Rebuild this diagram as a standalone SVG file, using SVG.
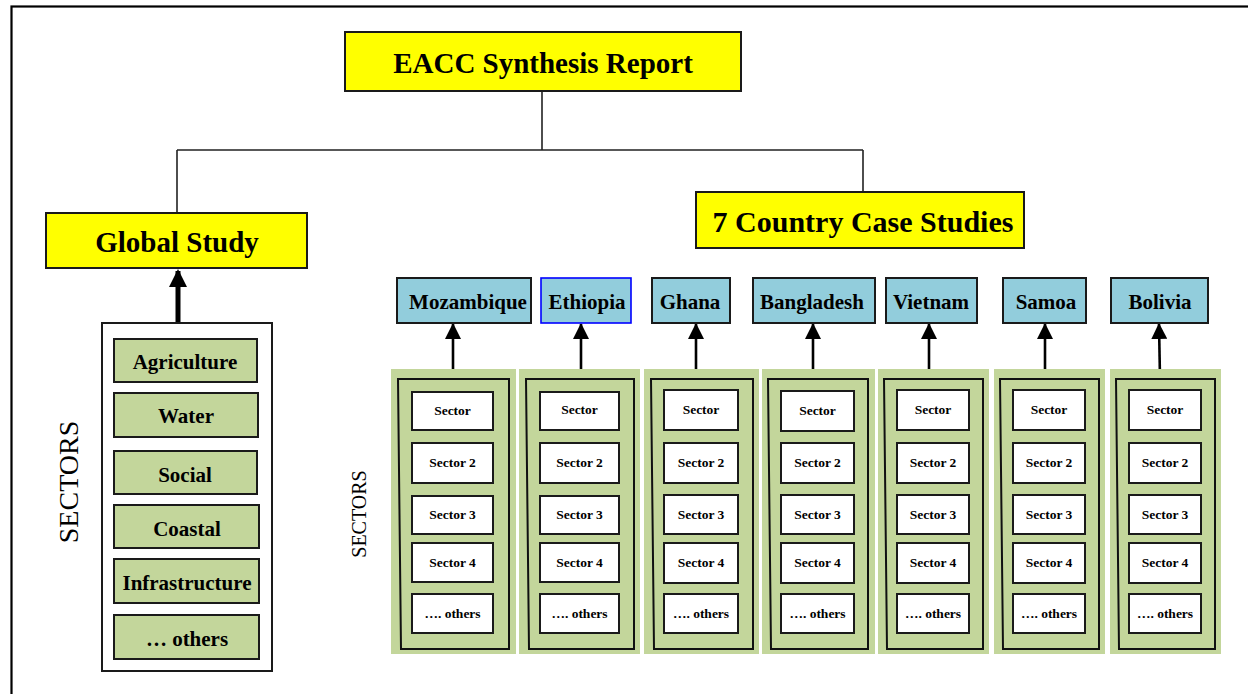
<svg xmlns="http://www.w3.org/2000/svg" width="1248" height="694" viewBox="0 0 1248 694">
<style>
  text{font-family:"Liberation Serif","Times New Roman",serif;fill:#000}
  .b{font-weight:bold;text-anchor:middle}
  .yel{fill:#ffff00;stroke:#1a1a1a;stroke-width:2}
  .cty{fill:#92cddc;stroke:#1a1a1a;stroke-width:2}
  .sec{fill:#c3d69b;stroke:#1a1a1a;stroke-width:2}
  .col{fill:#c3d69b;stroke:none}
  .inner{fill:none;stroke:#111;stroke-width:2}
  .wht{fill:#fff;stroke:#1a1a1a;stroke-width:2}
  .t29{font-size:29px}
  .t30{font-size:30px}
  .t21{font-size:21px}
  .t13{font-size:13.5px}
  .conn{fill:none;stroke:#222;stroke-width:1.6}
  .arr{fill:none;stroke:#000;stroke-width:2.6;marker-end:url(#ah)}
  .arrBig{fill:none;stroke:#000;stroke-width:5;marker-end:url(#ahBig)}
</style>
<defs>
  <marker id="ah" viewBox="0 0 16 16" refX="15" refY="8" markerWidth="16" markerHeight="16" markerUnits="userSpaceOnUse" orient="auto">
    <path d="M0,0 L16,8 L0,16 z" fill="#000"/>
  </marker>
  <marker id="ahBig" viewBox="0 0 18 18" refX="16" refY="9" markerWidth="18" markerHeight="18" markerUnits="userSpaceOnUse" orient="auto">
    <path d="M0,0 L18,9 L0,18 z" fill="#000"/>
  </marker>
</defs>
<rect width="1248" height="694" fill="#fff"/>
<rect x="11.5" y="6.5" width="1260" height="720" fill="none" stroke="#000" stroke-width="2.2"/>

<g id="connectors">
  <path class="conn" d="M542,91 V150 M177,150 H863 M177,150 V213 M863,150 V192"/>
  <path class="arrBig" d="M178,322 V271"/>
  <path class="arr" d="M453,379 V324"/>
  <path class="arr" d="M581,379 V324"/>
  <path class="arr" d="M696,379 V324"/>
  <path class="arr" d="M813,379 V324"/>
  <path class="arr" d="M929,379 V324"/>
  <path class="arr" d="M1045,379 V324"/>
  <path class="arr" d="M1160,379 L1159,324"/>
</g>

<g id="eacc">
  <rect class="yel" x="345" y="32" width="396" height="59"/>
  <text class="b t29" x="543" y="73">EACC Synthesis Report</text>
</g>
<g id="global-study">
  <rect class="yel" x="46" y="213" width="261" height="55"/>
  <text class="b t29" x="177" y="252">Global Study</text>
</g>
<g id="country-case-studies">
  <rect class="yel" x="696" y="192" width="328" height="56"/>
  <text class="b t30" x="863" y="232">7 Country Case Studies</text>
</g>

<g id="global-sectors">
  <rect x="102" y="323" width="170" height="348" fill="#fff" stroke="#1a1a1a" stroke-width="2"/>
  <text x="68" y="482" font-size="28" text-anchor="middle" transform="rotate(-90 68 482)" dy="10">SECTORS</text>
  <rect class="sec" x="114" y="339" width="143" height="43"/>
  <text class="b t21" x="185" y="369">Agriculture</text>
  <rect class="sec" x="114" y="393" width="144" height="44"/>
  <text class="b t21" x="186" y="423">Water</text>
  <rect class="sec" x="114" y="451" width="143" height="43"/>
  <text class="b t21" x="185" y="482">Social</text>
  <rect class="sec" x="114" y="505" width="145" height="43"/>
  <text class="b t21" x="187" y="536">Coastal</text>
  <rect class="sec" x="114" y="559" width="145" height="44"/>
  <text class="b t21" x="187" y="590">Infrastructure</text>
  <rect class="sec" x="114" y="615" width="145" height="44"/>
  <text class="b t21" x="187" y="646">… others</text>
</g>

<text x="359" y="514" font-size="20" text-anchor="middle" transform="rotate(-90 359 514)" dy="7">SECTORS</text>

<g id="mozambique">
  <rect class="cty" x="397" y="278" width="134" height="45"/>
  <text class="b t21" x="468" y="309">Mozambique</text>
  <rect class="col" x="391" y="369" width="125" height="285"/>
  <path class="inner" d="M398,379 H509 V649 H401 Z"/>
  <rect class="wht" x="412" y="392" width="81" height="38"/><text class="b t13" x="452.5" y="415">Sector</text>
  <rect class="wht" x="412" y="443" width="81" height="40"/><text class="b t13" x="452.5" y="467">Sector 2</text>
  <rect class="wht" x="412" y="496" width="81" height="38"/><text class="b t13" x="452.5" y="519">Sector 3</text>
  <rect class="wht" x="412" y="543" width="81" height="39"/><text class="b t13" x="452.5" y="567">Sector 4</text>
  <rect class="wht" x="412" y="594" width="81" height="39"/><text class="b t13" x="452.5" y="618">…. others</text>
</g>

<g id="ethiopia">
  <rect x="541" y="278" width="90" height="45" fill="#92cddc" stroke="#0000ff" stroke-width="1.6"/>
  <text class="b t21" x="587" y="309">Ethiopia</text>
  <rect class="col" x="519" y="369" width="121" height="285"/>
  <path class="inner" d="M526,379 H634 V649 H529 Z"/>
  <rect class="wht" x="540" y="392" width="79" height="38"/><text class="b t13" x="579.5" y="414">Sector</text>
  <rect class="wht" x="540" y="443" width="79" height="40"/><text class="b t13" x="579.5" y="467">Sector 2</text>
  <rect class="wht" x="540" y="496" width="79" height="38"/><text class="b t13" x="579.5" y="519">Sector 3</text>
  <rect class="wht" x="540" y="543" width="79" height="39"/><text class="b t13" x="579.5" y="567">Sector 4</text>
  <rect class="wht" x="540" y="594" width="79" height="39"/><text class="b t13" x="579.5" y="618">…. others</text>
</g>

<g id="ghana">
  <rect class="cty" x="652" y="278" width="78" height="45"/>
  <text class="b t21" x="690" y="309">Ghana</text>
  <rect class="col" x="644" y="369" width="115" height="285"/>
  <path class="inner" d="M651,379 H753 V649 H654 Z"/>
  <rect class="wht" x="664" y="390" width="74" height="40"/><text class="b t13" x="701" y="414">Sector</text>
  <rect class="wht" x="664" y="443" width="74" height="40"/><text class="b t13" x="701" y="467">Sector 2</text>
  <rect class="wht" x="664" y="495" width="74" height="39"/><text class="b t13" x="701" y="519">Sector 3</text>
  <rect class="wht" x="664" y="543" width="74" height="40"/><text class="b t13" x="701" y="567">Sector 4</text>
  <rect class="wht" x="664" y="594" width="74" height="39"/><text class="b t13" x="701" y="618">…. others</text>
</g>

<g id="bangladesh">
  <rect class="cty" x="753" y="278" width="122" height="45"/>
  <text class="b t21" x="812" y="309">Bangladesh</text>
  <rect class="col" x="762" y="369" width="113" height="285"/>
  <path class="inner" d="M768,379 H868 V649 H771 Z"/>
  <rect class="wht" x="781" y="391" width="73" height="40"/><text class="b t13" x="817.5" y="415">Sector</text>
  <rect class="wht" x="781" y="443" width="73" height="40"/><text class="b t13" x="817.5" y="467">Sector 2</text>
  <rect class="wht" x="781" y="495" width="73" height="39"/><text class="b t13" x="817.5" y="519">Sector 3</text>
  <rect class="wht" x="781" y="543" width="73" height="40"/><text class="b t13" x="817.5" y="567">Sector 4</text>
  <rect class="wht" x="781" y="594" width="73" height="39"/><text class="b t13" x="817.5" y="618">…. others</text>
</g>

<g id="vietnam">
  <rect class="cty" x="886" y="278" width="91" height="45"/>
  <text class="b t21" x="931" y="309">Vietnam</text>
  <rect class="col" x="878" y="369" width="111" height="285"/>
  <path class="inner" d="M884,379 H983 V649 H887 Z"/>
  <rect class="wht" x="897" y="390" width="72" height="40"/><text class="b t13" x="933" y="414">Sector</text>
  <rect class="wht" x="897" y="443" width="72" height="40"/><text class="b t13" x="933" y="467">Sector 2</text>
  <rect class="wht" x="897" y="495" width="72" height="39"/><text class="b t13" x="933" y="519">Sector 3</text>
  <rect class="wht" x="897" y="543" width="72" height="40"/><text class="b t13" x="933" y="567">Sector 4</text>
  <rect class="wht" x="897" y="594" width="72" height="39"/><text class="b t13" x="933" y="618">…. others</text>
</g>

<g id="samoa">
  <rect class="cty" x="1003" y="278" width="83" height="45"/>
  <text class="b t21" x="1046" y="309">Samoa</text>
  <rect class="col" x="994" y="369" width="111" height="285"/>
  <path class="inner" d="M1000,379 H1099 V649 H1003 Z"/>
  <rect class="wht" x="1013" y="390" width="72" height="40"/><text class="b t13" x="1049" y="414">Sector</text>
  <rect class="wht" x="1013" y="443" width="72" height="40"/><text class="b t13" x="1049" y="467">Sector 2</text>
  <rect class="wht" x="1013" y="495" width="72" height="39"/><text class="b t13" x="1049" y="519">Sector 3</text>
  <rect class="wht" x="1013" y="543" width="72" height="40"/><text class="b t13" x="1049" y="567">Sector 4</text>
  <rect class="wht" x="1013" y="594" width="72" height="39"/><text class="b t13" x="1049" y="618">…. others</text>
</g>

<g id="bolivia">
  <rect class="cty" x="1111" y="278" width="97" height="45"/>
  <text class="b t21" x="1160" y="309">Bolivia</text>
  <rect class="col" x="1110" y="369" width="111" height="285"/>
  <path class="inner" d="M1116,379 H1215 V649 H1119 Z"/>
  <rect class="wht" x="1129" y="390" width="72" height="40"/><text class="b t13" x="1165" y="414">Sector</text>
  <rect class="wht" x="1129" y="443" width="72" height="40"/><text class="b t13" x="1165" y="467">Sector 2</text>
  <rect class="wht" x="1129" y="495" width="72" height="39"/><text class="b t13" x="1165" y="519">Sector 3</text>
  <rect class="wht" x="1129" y="543" width="72" height="40"/><text class="b t13" x="1165" y="567">Sector 4</text>
  <rect class="wht" x="1129" y="594" width="72" height="39"/><text class="b t13" x="1165" y="618">…. others</text>
</g>
</svg>
